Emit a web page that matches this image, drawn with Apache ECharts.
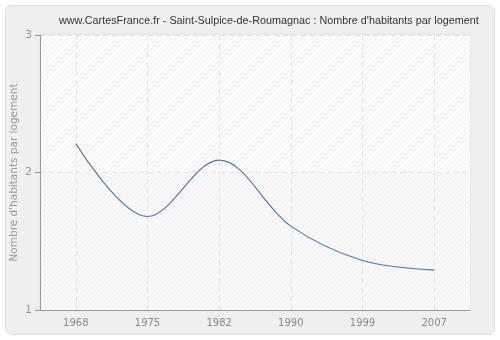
<!DOCTYPE html>
<html><head><meta charset="utf-8">
<script src="https://cdn.jsdelivr.net/npm/echarts@6/dist/echarts.min.js"></script>
<style>html,body{margin:0;padding:0;background:#fff}#c{width:500px;height:340px}</style>
</head><body><div id="c"></div>
<script>
const categories = ['1968', '1975', '1982', '1990', '1999', '2007'];
const values = [2.21, 1.68, 2.09, 1.61, 1.36, 1.29];
const yTicks = [1, 2, 3];
const titleText = "www.CartesFrance.fr - Saint-Sulpice-de-Roumagnac : Nombre d'habitants par logement";
const yName = "Nombre d'habitants par logement";

function hatch(bg, line) {
  const s = 5;
  const c = document.createElement('canvas');
  c.width = s; c.height = s;
  const g = c.getContext('2d');
  g.fillStyle = bg; g.fillRect(0, 0, s, s);
  g.strokeStyle = line; g.lineWidth = 1;
  g.beginPath();
  g.moveTo(0, s); g.lineTo(s, 0);
  g.moveTo(-s / 2, s / 2); g.lineTo(s / 2, -s / 2);
  g.moveTo(s / 2, s * 1.5); g.lineTo(s * 1.5, s / 2);
  g.stroke();
  return c;
}

const chart = echarts.init(document.getElementById('c'), null, {renderer: 'canvas'});
chart.setOption({
  animation: false,
  backgroundColor: '#fff',
  graphic: [{
    type: 'rect', left: 5, top: 5, z: -10,
    shape: {width: 489, height: 329, r: 6},
    style: {fill: '#efefef', stroke: '#dcdcdc', lineWidth: 1}
  }],
  title: {
    text: titleText, left: 54, top: 11,
    textStyle: {fontFamily: 'Liberation Sans', fontSize: 10.8, fontWeight: 'normal', color: '#333'}
  },
  grid: {left: 40, right: 30, top: 35, bottom: 30, outerBoundsMode: 'none', containLabel: false, show: true, borderColor: '#dddddd', borderWidth: 1, backgroundColor: 'transparent'},
  xAxis: {
    type: 'category', data: categories, boundaryGap: true,
    axisLine: {lineStyle: {color: '#999'}},
    axisTick: {alignWithLabel: true, length: 5, lineStyle: {color: '#999'}},
    axisLabel: {color: '#888', fontFamily: 'DejaVu Sans', fontSize: 10, margin: 8},
    splitLine: {show: true, alignWithLabel: true, lineStyle: {color: '#e2e2e2', type: [5, 4]}}
  },
  yAxis: {
    type: 'value', min: yTicks[0], max: yTicks[yTicks.length - 1], interval: 1,
    name: yName, nameLocation: 'middle', nameGap: 20, nameMoveOverlap: false,
    nameTextStyle: {color: '#999', fontFamily: 'DejaVu Sans', fontSize: 10.5},
    axisLine: {show: true, lineStyle: {color: '#999'}},
    axisTick: {show: true, length: 5, lineStyle: {color: '#999'}},
    axisLabel: {color: '#999', fontFamily: 'DejaVu Sans', fontSize: 11, margin: 8},
    splitLine: {show: true, lineStyle: {color: '#e2e2e2', type: [5, 4]}},
    splitArea: {show: true, areaStyle: {color: [
      {image: hatch('#f8f8f8', '#f0f0f0'), repeat: 'repeat'},
      {image: hatch('#ffffff', '#ebebeb'), repeat: 'repeat'}
    ]}}
  },
  series: [{
    type: 'line', data: values, smooth: 0.35, symbol: 'none',
    lineStyle: {color: '#4a76ad', width: 1.1}
  }]
});
</script></body></html>
